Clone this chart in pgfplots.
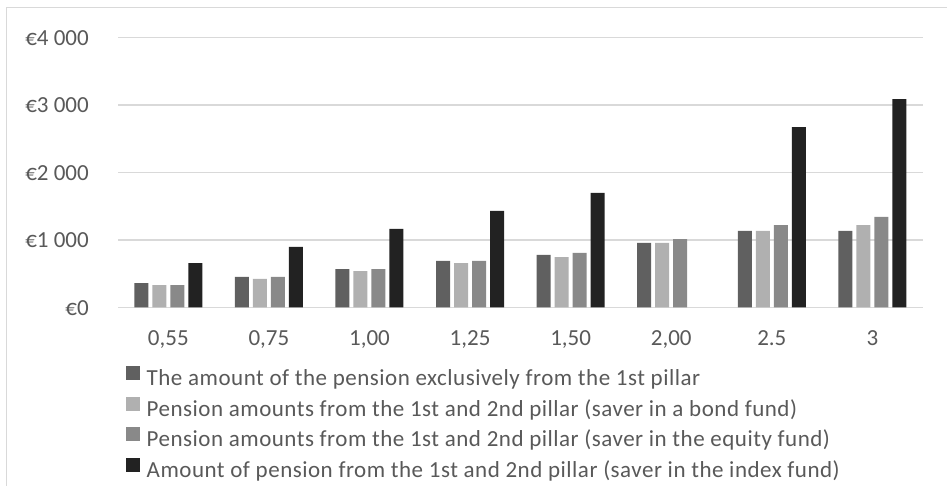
\documentclass[border=0pt]{standalone}
\usepackage{pgfplots}
\pgfplotsset{compat=1.18}
\usepackage{fontspec}
\setmainfont{Carlito}
\newfontfamily\legfont[LetterSpace=2.2]{Carlito}
\definecolor{gridgrey}{HTML}{D9D9D9}
\definecolor{txtgrey}{HTML}{595959}
\definecolor{cA}{HTML}{606060}
\definecolor{cB}{HTML}{B0B0B0}
\definecolor{cC}{HTML}{898989}
\definecolor{cD}{HTML}{222222}
\pgfplotsset{sqlegend/.style={legend image code/.code={\fill[##1] (0pt,0pt) rectangle (14pt,14pt);}}}
\begin{document}
\begin{tikzpicture}[x=1pt,y=1pt]
\useasboundingbox (0,0) rectangle (947,486);
\fill[white] (0,0) rectangle (947,486);
\draw[gridgrey, line width=1.3pt] (6.7,-2) -- (6.7,478.3) -- (950,478.3);
\begin{axis}[
  at={(118pt,178.7pt)}, anchor=south west,
  scale only axis, width=804.7pt, height=269.6pt,
  xmin=-0.5, xmax=7.5, ymin=0, ymax=4000,
  ybar=4pt, bar width=14pt,
  xtick={0,1,2,3,4,5,6,7},
  xticklabels={{0,55},{0,75},{1,00},{1,25},{1,50},{2,00},{2.5},{3}},
  ytick={0,1000,2000,3000,4000},
  yticklabels={€0,€1 000,€2 000,€3 000,€4 000},
  axis line style={draw=none}, major tick length=0pt,
  ymajorgrids, grid style={gridgrey, line width=1.3pt},
  tick label style={font=\fontsize{23}{27}\selectfont, text=txtgrey},
  xticklabel style={anchor=base, yshift=-38.7pt},
  yticklabel style={anchor=base east, inner sep=0pt, xshift=-29pt, yshift=-7.8pt},
  legend style={at={(0.00994,-0.214)}, anchor=north west, draw=none, fill=none,
    inner sep=0pt, outer sep=0pt, row sep=0pt, column sep=6.7pt,
    font=\legfont\fontsize{23}{27}\selectfont, text=txtgrey,
    nodes={inner sep=0pt, text height=21pt, text depth=9.5pt}},
  legend cell align=left,
]
\addplot[fill=cA, draw=none, sqlegend] coordinates {(0,360) (1,450) (2,568) (3,687) (4,776) (5,954) (6,1132) (7,1132)};
\addplot[fill=cB, draw=none, sqlegend] coordinates {(0,330) (1,420) (2,538) (3,657) (4,746) (5,954) (6,1132) (7,1221)};
\addplot[fill=cC, draw=none, sqlegend] coordinates {(0,330) (1,450) (2,568) (3,687) (4,806) (5,1013) (6,1221) (7,1340)};
\addplot[fill=cD, draw=none, sqlegend] coordinates {(0,657) (1,895) (2,1162) (3,1429) (4,1696) (6,2675) (7,3090)};
\legend{The amount of the pension exclusively from the 1st pillar,
Pension amounts from the 1st and 2nd pillar (saver in a bond fund),
Pension amounts from the 1st and 2nd pillar (saver in the equity fund),
Amount of pension from the 1st and 2nd pillar (saver in the index fund)}
\end{axis}
\end{tikzpicture}
\end{document}
